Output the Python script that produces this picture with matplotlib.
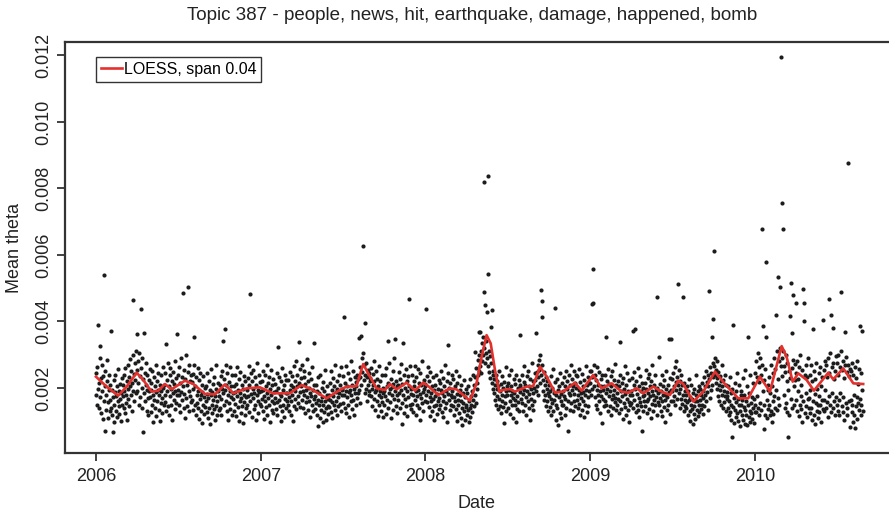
import numpy as np
import matplotlib
matplotlib.use("Agg")
import matplotlib.pyplot as plt

plt.rcParams['font.family'] = ['Liberation Sans', 'DejaVu Sans']

# Daily mean theta values, in units of 1e-5, one list per year (one row per month)
theta_2006 = [
    245, 180, 150, 262, 198, 390, 140, 215, 290, 326, 172, 230, 125, 268, 190, 108, 235, 160, 540, 205, 71, 250, 178, 135, 222, 285, 158, 110, 240, 195, 132,
    165, 210, 372, 140, 195, 118, 172, 69, 225, 150, 98, 188, 240, 130, 175, 205, 112, 160, 258, 145, 190, 122, 168, 212, 100, 185, 148, 230,
    175, 210, 140, 238, 192, 125, 260, 180, 155, 222, 105, 198, 270, 168, 232, 145, 205, 288, 178, 250, 130, 215, 300, 190, 465, 242, 160, 275, 225, 310, 185,
    362, 255, 190, 280, 215, 148, 305, 235, 172, 260, 437, 200, 140, 290, 67, 228, 185, 366, 245, 160, 210, 275, 130, 195, 240, 170, 118, 225, 190, 258,
    172, 215, 128, 195, 250, 150, 180, 98, 232, 165, 205, 140, 268, 188, 115, 220, 160, 195, 245, 135, 178, 210, 102, 190, 155, 238, 170, 125, 200, 262, 148,
    210, 158, 245, 180, 332, 132, 225, 190, 275, 145, 205, 118, 238, 175, 260, 150, 198, 222, 105, 185, 248, 165, 212, 138, 280, 192, 155, 230, 178, 362,
    195, 240, 150, 262, 178, 215, 128, 290, 188, 232, 165, 487, 205, 140, 255, 182, 110, 228, 300, 170, 210, 145, 503, 248, 192, 130, 268, 175, 222, 158, 238,
    218, 165, 242, 135, 198, 270, 352, 150, 205, 118, 232, 180, 155, 260, 140, 190, 108, 225, 168, 245, 130, 178, 210, 95, 188, 150, 235, 122, 172, 200, 142,
    160, 205, 128, 182, 245, 110, 170, 222, 140, 195, 92, 178, 258, 150, 188, 125, 212, 165, 138, 232, 105, 175, 198, 145, 270, 160, 118, 190, 215, 135,
    175, 210, 140, 235, 168, 120, 198, 250, 341, 185, 150, 228, 195, 377, 162, 270, 210, 132, 245, 180, 105, 218, 155, 262, 190, 138, 205, 172, 240, 118, 185,
    168, 205, 130, 188, 240, 152, 115, 212, 175, 262, 142, 195, 100, 228, 160, 185, 248, 125, 170, 210, 145, 95, 198, 235, 158, 180, 120, 220, 172, 140,
    195, 150, 230, 175, 265, 128, 208, 482, 160, 245, 182, 112, 220, 170, 198, 255, 138, 185, 232, 148, 105, 210, 178, 275, 160, 195, 125, 240, 188, 152, 218,
]
theta_2007 = [
    190, 145, 222, 168, 250, 130, 195, 175, 108, 238, 160, 205, 142, 268, 185, 120, 215, 170, 232, 150, 98, 198, 180, 255, 135, 210, 162, 125, 228, 188, 155,
    170, 212, 138, 190, 245, 158, 118, 200, 324, 165, 232, 145, 182, 102, 220, 175, 260, 130, 195, 150, 208, 112, 240, 168, 185, 140, 225, 160,
    185, 150, 225, 172, 130, 248, 195, 160, 210, 118, 235, 178, 202, 100, 265, 145, 190, 220, 168, 280, 138, 205, 240, 175, 155, 339, 215, 188, 258, 142, 230,
    205, 165, 270, 190, 140, 232, 180, 250, 125, 212, 195, 158, 288, 172, 220, 135, 200, 245, 160, 185, 112, 228, 175, 150, 262, 195, 130, 210, 168, 336,
    175, 138, 210, 155, 120, 192, 165, 232, 86, 148, 185, 110, 240, 160, 135, 200, 172, 98, 218, 150, 128, 190, 162, 255, 140, 105, 178, 205, 145, 168, 122,
    180, 142, 215, 165, 250, 128, 195, 158, 110, 230, 175, 148, 205, 270, 135, 188, 160, 222, 118, 198, 172, 145, 240, 185, 152, 208, 130, 262, 178, 195,
    198, 155, 235, 180, 414, 140, 215, 190, 265, 125, 205, 172, 245, 150, 188, 112, 228, 195, 160, 280, 178, 138, 210, 250, 165, 198, 120, 232, 185, 148, 218,
    205, 170, 240, 185, 228, 350, 195, 262, 155, 232, 356, 210, 290, 248, 628, 305, 225, 268, 185, 396, 240, 275, 198, 232, 160, 255, 210, 178, 245, 190, 220,
    230, 175, 260, 198, 145, 242, 210, 280, 168, 220, 188, 135, 250, 195, 160, 228, 115, 205, 178, 265, 150, 190, 222, 130, 172, 240, 158, 200, 112, 185,
    192, 150, 238, 175, 122, 260, 205, 165, 342, 215, 140, 185, 275, 198, 158, 228, 110, 202, 180, 250, 135, 212, 168, 290, 190, 346, 145, 222, 178, 125, 205,
    210, 165, 248, 185, 140, 228, 195, 272, 155, 212, 92, 334, 180, 240, 125, 200, 168, 258, 145, 222, 190, 115, 235, 172, 468, 205, 150, 265, 182, 138,
    198, 152, 240, 180, 128, 222, 205, 265, 165, 190, 118, 232, 175, 148, 258, 195, 140, 215, 182, 105, 245, 170, 208, 155, 280, 188, 132, 225, 198, 160, 212,
]
theta_2008 = [
    205, 438, 180, 235, 158, 262, 190, 142, 220, 172, 115, 248, 185, 160, 205, 130, 232, 168, 145, 195, 105, 210, 175, 150, 240, 122, 182, 160, 198, 138, 225,
    170, 215, 148, 195, 252, 128, 185, 160, 230, 112, 205, 175, 268, 140, 190, 155, 222, 98, 182, 245, 329, 165, 200, 135, 215, 180, 150, 238, 172,
    190, 145, 228, 172, 118, 205, 160, 250, 138, 182, 100, 215, 165, 148, 235, 125, 178, 195, 110, 162, 210, 140, 88, 185, 155, 225, 130, 172, 105, 198, 142,
    150, 118, 185, 135, 205, 98, 162, 140, 228, 112, 175, 150, 192, 128, 240, 165, 145, 210, 309, 180, 232, 155, 260, 198, 215, 285, 240, 369, 250, 298,
    265, 369, 310, 245, 335, 280, 298, 352, 489, 320, 820, 275, 450, 340, 305, 430, 290, 838, 543, 265, 310, 248, 295, 230, 275, 384, 435, 215, 252, 198, 240,
    228, 185, 210, 165, 240, 150, 198, 175, 222, 138, 205, 168, 250, 145, 190, 212, 125, 180, 235, 160, 200, 142, 96, 218, 175, 155, 262, 190, 132, 205,
    178, 215, 140, 195, 238, 160, 122, 205, 180, 255, 148, 192, 170, 110, 228, 185, 150, 212, 165, 98, 240, 175, 138, 200, 158, 225, 130, 188, 210, 360, 168,
    200, 155, 240, 182, 130, 218, 195, 265, 148, 210, 172, 118, 235, 190, 160, 250, 140, 205, 182, 105, 228, 168, 198, 150, 275, 185, 135, 220, 200, 162, 245,
    225, 190, 364, 248, 205, 270, 232, 180, 285, 255, 215, 298, 495, 240, 268, 462, 413, 225, 190, 248, 165, 210, 178, 232, 145, 198, 160, 222, 130, 185,
    175, 210, 142, 190, 235, 120, 168, 200, 155, 258, 132, 185, 165, 440, 218, 105, 178, 150, 228, 140, 195, 88, 172, 205, 125, 245, 160, 182, 110, 215, 150,
    190, 150, 232, 175, 118, 205, 168, 250, 140, 198, 222, 160, 72, 185, 240, 135, 210, 178, 268, 155, 195, 228, 130, 205, 182, 252, 162, 215, 145, 238,
    200, 165, 235, 180, 140, 258, 195, 152, 218, 120, 185, 170, 242, 135, 205, 160, 188, 112, 225, 178, 150, 265, 195, 128, 210, 172, 232, 145, 190, 215, 250,
]
theta_2009 = [
    215, 250, 180, 232, 198, 453, 457, 558, 270, 205, 240, 172, 225, 150, 195, 262, 138, 210, 180, 248, 160, 192, 125, 228, 175, 205, 94, 240, 168, 195, 145,
    205, 162, 240, 185, 352, 150, 222, 198, 130, 258, 175, 212, 145, 190, 235, 118, 205, 168, 250, 180, 140, 225, 195, 158, 272, 170, 210, 135,
    185, 150, 222, 168, 125, 205, 240, 160, 339, 190, 138, 215, 175, 108, 230, 155, 198, 265, 142, 182, 120, 210, 168, 245, 135, 192, 158, 98, 225, 178, 148,
    192, 155, 230, 178, 372, 140, 210, 248, 165, 376, 198, 128, 222, 182, 150, 260, 135, 205, 170, 112, 235, 158, 190, 145, 72, 215, 175, 132, 200, 160,
    178, 215, 145, 198, 255, 160, 125, 230, 185, 168, 242, 138, 205, 175, 110, 222, 190, 152, 268, 180, 130, 210, 165, 238, 148, 195, 172, 473, 118, 200, 158,
    185, 148, 294, 170, 212, 130, 192, 160, 240, 115, 178, 205, 142, 225, 165, 98, 198, 180, 252, 135, 172, 210, 150, 188, 346, 122, 230, 162, 346, 195,
    190, 228, 160, 245, 205, 175, 262, 150, 218, 195, 280, 168, 232, 210, 512, 185, 255, 140, 222, 198, 168, 240, 152, 208, 475, 178, 130, 215, 165, 192, 145,
    180, 140, 205, 158, 118, 192, 165, 228, 130, 172, 100, 150, 210, 138, 168, 92, 185, 145, 122, 198, 160, 108, 178, 238, 135, 162, 115, 190, 150, 205, 128,
    165, 198, 138, 180, 215, 150, 122, 192, 170, 232, 145, 205, 178, 250, 160, 218, 188, 135, 240, 205, 493, 228, 170, 262, 195, 245, 354, 210, 275, 232,
    408, 613, 265, 240, 290, 215, 255, 198, 282, 230, 175, 248, 210, 162, 235, 195, 220, 150, 205, 268, 180, 140, 225, 192, 158, 240, 175, 130, 210, 168, 188,
    175, 140, 205, 118, 160, 232, 128, 185, 150, 105, 198, 52, 142, 390, 170, 95, 215, 135, 158, 112, 190, 245, 125, 168, 100, 148, 210, 132, 85, 178,
    150, 192, 118, 165, 230, 105, 142, 178, 92, 255, 135, 160, 120, 205, 88, 354, 148, 112, 185, 130, 98, 240, 155, 125, 172, 108, 215, 140, 95, 168, 128,
]
theta_2010 = [
    245, 150, 280, 128, 232, 175, 305, 140, 262, 118, 218, 290, 155, 240, 135, 678, 270, 190, 386, 148, 76, 225, 120, 258, 580, 352, 165, 110, 210, 138, 195,
    150, 232, 118, 185, 270, 130, 205, 98, 245, 160, 122, 290, 175, 140, 258, 195, 420, 135, 310, 228, 170, 535, 280, 148, 320, 503, 1196, 265,
    290, 235, 757, 678, 310, 180, 265, 140, 248, 300, 155, 222, 128, 275, 54, 195, 250, 118, 230, 417, 168, 517, 260, 364, 140, 285, 480, 205, 150, 272, 225,
    245, 457, 165, 280, 130, 228, 190, 115, 262, 150, 300, 138, 210, 175, 98, 255, 497, 160, 457, 400, 125, 240, 185, 270, 145, 112, 232, 168, 290, 140,
    170, 238, 125, 195, 268, 140, 105, 220, 377, 160, 250, 118, 182, 92, 228, 155, 275, 132, 198, 148, 110, 245, 175, 128, 262, 150, 205, 98, 232, 165, 138,
    404, 165, 255, 130, 282, 195, 140, 268, 158, 232, 112, 290, 175, 245, 467, 150, 305, 420, 128, 262, 185, 140, 275, 380, 160, 228, 118, 250, 172, 295,
    150, 275, 132, 240, 298, 165, 118, 262, 185, 310, 488, 145, 255, 128, 280, 172, 230, 105, 268, 369, 155, 292, 140, 248, 120, 876, 270, 160, 235, 82, 258,
    165, 250, 128, 275, 150, 98, 238, 180, 120, 262, 79, 145, 230, 172, 108, 282, 155, 212, 135, 258, 168, 386, 118, 245, 150, 372, 195, 130,
]
years = [2006, 2007, 2008, 2009, 2010]

# LOESS curve (decimal year, value in 1e-5)
loess_t = [2006.000, 2006.065, 2006.135, 2006.186, 2006.247, 2006.287, 2006.338, 2006.378, 2006.419, 2006.459,
           2006.540, 2006.591, 2006.662, 2006.723, 2006.783, 2006.833, 2006.915, 2006.995,
           2007.075, 2007.177, 2007.248, 2007.309, 2007.400, 2007.480, 2007.521, 2007.582, 2007.622, 2007.663,
           2007.703, 2007.754, 2007.784, 2007.825, 2007.885, 2007.936, 2007.986,
           2008.016, 2008.077, 2008.148, 2008.189, 2008.269, 2008.310, 2008.341, 2008.371, 2008.396, 2008.422,
           2008.448, 2008.472, 2008.513, 2008.543, 2008.614, 2008.654, 2008.695, 2008.736, 2008.786, 2008.836,
           2008.907, 2008.948,
           2009.018, 2009.069, 2009.130, 2009.191, 2009.231, 2009.282, 2009.322, 2009.383, 2009.434, 2009.484,
           2009.535, 2009.565, 2009.626, 2009.686, 2009.757, 2009.818, 2009.899, 2009.959,
           2010.030, 2010.091, 2010.162, 2010.192, 2010.229, 2010.263, 2010.314, 2010.358, 2010.445, 2010.475,
           2010.536, 2010.597, 2010.657]
loess_y = [234, 204, 177, 204, 246, 224, 189, 192, 212, 196,
           222, 212, 182, 181, 211, 184, 199, 202,
           184, 184, 209, 196, 169, 194, 204, 206, 272, 234,
           199, 194, 212, 196, 216, 192, 216,
           206, 179, 199, 196, 162, 214, 294, 359, 334, 254,
           189, 194, 197, 189, 204, 206, 264, 234, 186, 189,
           216, 192,
           239, 199, 214, 189, 186, 199, 184, 204, 189, 179,
           222, 212, 159, 189, 249, 212, 169, 169,
           234, 189, 326, 294, 219, 244, 224, 192, 246, 226,
           259, 214, 212]

SCALE = 1e-5
W, H = 889, 515
fig = plt.figure(figsize=(W / 100, H / 100), dpi=100)
L, R, T, B = 65, 894, 42, 453
ax = fig.add_axes([L / W, 1 - B / H, (R - L) / W, (B - T) / H])

for yr, vals in zip(years, [theta_2006, theta_2007, theta_2008, theta_2009, theta_2010]):
    ndays = 366 if yr % 4 == 0 else 365
    t = yr + np.arange(len(vals)) / ndays
    ax.scatter(t, np.array(vals) * SCALE, s=9, c='#1c1c1c', linewidths=0, zorder=2)

ax.plot(loess_t, np.array(loess_y) * SCALE, color='#e3312d', lw=1.9, zorder=3,
        label='LOESS, span 0.04')

ax.set_xlim(2005.812, 2010.844)
ax.set_ylim(0.000045, 0.012406)
ax.set_xticks(years)
ax.set_xticklabels([str(y) for y in years])
ax.set_yticks([0.002, 0.004, 0.006, 0.008, 0.010, 0.012])
ax.set_yticklabels(['0.002', '0.004', '0.006', '0.008', '0.010', '0.012'])

for s in ax.spines.values():
    s.set_linewidth(1.6)
    s.set_color('#333333')
ax.tick_params(axis='both', direction='out', length=6, width=1.3, color='#333333',
               labelsize=13, labelcolor='#222222')
ax.tick_params(axis='x', pad=5)
ax.tick_params(axis='y', pad=3, labelrotation=90)
for lab in ax.get_yticklabels():
    lab.set_va('center')

leg = ax.legend(loc='upper left', bbox_to_anchor=((96 - L) / (R - L), (B - 57) / (B - T)),
                borderaxespad=0, fontsize=11.5, handlelength=1.3, handletextpad=0.15,
                borderpad=0.3, fancybox=False, framealpha=1, edgecolor='#333333')
leg.get_frame().set_linewidth(1.0)

fig.text(472 / W, 1 - 16 / H, 'Topic 387 - people, news, hit, earthquake, damage, happened, bomb',
         ha='center', va='center', fontsize=13.5, color='#222222')
fig.text(476 / W, 1 - 503 / H, 'Date', ha='center', va='center', fontsize=13, color='#222222')
fig.text(15 / W, 1 - 248 / H, 'Mean theta', ha='center', va='center', rotation=90,
         fontsize=13, color='#222222')

fig.savefig('out.png', dpi=100)
